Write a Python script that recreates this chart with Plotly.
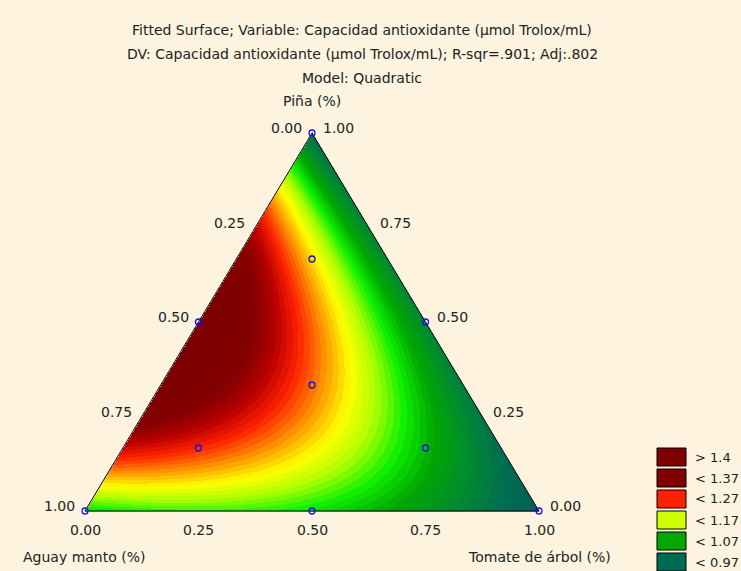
import numpy as np
import plotly.graph_objects as go

# ---------------- data ----------------
title_lines = [
    "Fitted Surface; Variable: Capacidad antioxidante (µmol Trolox/mL)",
    "DV: Capacidad antioxidante (µmol Trolox/mL); R-sqr=.901; Adj:.802",
    "Model: Quadratic",
]
comp_names = ["Aguay manto (%)", "Piña (%)", "Tomate de árbol (%)"]

# Scheffé quadratic model coefficients (A = Aguay manto, P = Piña, T = Tomate de árbol)
lin_coef = [1.10, 0.97, 0.93]          # bA, bP, bT
int_coef = [1.72, 0.36, 0.24]          # bAP, bAT, bPT

# design points (mixture fractions)
pts_A = [1.0, 0.0, 0.0, 0.5, 0.5, 0.0, 1/3, 2/3, 1/6, 1/6]
pts_P = [0.0, 1.0, 0.0, 0.5, 0.0, 0.5, 1/3, 1/6, 2/3, 1/6]
pts_T = [0.0, 0.0, 1.0, 0.0, 0.5, 0.5, 1/3, 1/6, 1/6, 2/3]

tick_vals = [0.0, 0.25, 0.5, 0.75, 1.0]
tick_text = ["0.00", "0.25", "0.50", "0.75", "1.00"]

legend_labels = ["> 1.4", "< 1.37", "< 1.27", "< 1.17", "< 1.07", "< 0.97"]
legend_colors = ["#800000", "#800000", "#FF2000", "#CCFF00", "#00A800", "#006B54"]

cs_vals = [0.92, 0.97, 1.02, 1.07, 1.115, 1.16, 1.20, 1.245, 1.29, 1.33, 1.37, 1.50]
cs_cols = ["#005C4E", "#006B54", "#008A30", "#00A800", "#10F000", "#B0FF00",
           "#FFFF00", "#FF9000", "#FF2000", "#B80000", "#840000", "#780000"]
band_step = 0.01

BG = "#FDF3DF"
W, H = 741, 571
# pixel placement of the triangle
X0, X1 = 85, 539      # bottom-left / bottom-right x (px)
YB, YT = 511, 133     # base / apex y (px from top)


def to_xy(a, p, t):
    a, p, t = np.asarray(a), np.asarray(p), np.asarray(t)
    return t + p / 2.0, p


def model(a, p, t):
    bA, bP, bT = lin_coef
    bAP, bAT, bPT = int_coef
    return bA * a + bP * p + bT * t + bAP * a * p + bAT * a * t + bPT * p * t


# ---------------- surface ----------------
nx, ny = X1 - X0 + 1, YB - YT + 1
xs = np.linspace(0, 1, nx)
ys = np.linspace(0, 1, ny)
XX, YY = np.meshgrid(xs, ys)
P = YY
T = XX - YY / 2.0
A = 1.0 - P - T
Z = model(A, P, T)
Z = np.floor(Z / band_step) * band_step + band_step / 2
Z[(A < -1e-9) | (T < -1e-9)] = np.nan

zmin, zmax = cs_vals[0], cs_vals[-1]
colorscale = [[(v - zmin) / (zmax - zmin), c] for v, c in zip(cs_vals, cs_cols)]

fig = go.Figure()
fig.add_trace(go.Heatmap(x=xs, y=ys, z=Z, colorscale=colorscale, zmin=zmin, zmax=zmax,
                         showscale=False, hoverinfo="skip", zsmooth=False))

# triangle outline
vx, vy = to_xy([1, 0, 0, 1], [0, 0, 1, 0], [0, 1, 0, 0])
fig.add_trace(go.Scatter(x=vx, y=vy, mode="lines", line=dict(color="black", width=1),
                         hoverinfo="skip", showlegend=False))

# design points
px_, py_ = to_xy(pts_A, pts_P, pts_T)
fig.add_trace(go.Scatter(x=px_, y=py_, mode="markers",
                         marker=dict(symbol="circle-open", color="#1010F0", size=6,
                                     line=dict(width=1.3, color="#1010F0")),
                         hoverinfo="skip", showlegend=False))

font = dict(family="DejaVu Sans, Liberation Sans, sans-serif", size=14, color="#222222")
lfont = dict(family="DejaVu Sans, Liberation Sans, sans-serif", size=13, color="#222222")
ann = []
# left side ticks: Aguay manto (1 at bottom-left, 0 at apex)
for v, s in zip(tick_vals, tick_text):
    x, y = to_xy(v, 1 - v, 0)
    ann.append(dict(x=float(x), y=float(y), text=s, showarrow=False, xanchor="right",
                    yanchor="middle", xshift=-8, yshift=5, font=font))
# bottom ticks: Tomate de árbol
for v, s in zip(tick_vals, tick_text):
    x, y = to_xy(1 - v, 0, v)
    ann.append(dict(x=float(x), y=float(y), text=s, showarrow=False, xanchor="center",
                    yanchor="top", yshift=-9, font=font))
# right side ticks: Piña
for v, s in zip(tick_vals, tick_text):
    x, y = to_xy(0, v, 1 - v)
    ann.append(dict(x=float(x), y=float(y), text=s, showarrow=False, xanchor="left",
                    yanchor="middle", xshift=9, yshift=5, font=font))

# axis titles
ax_, ay_ = to_xy(0, 1, 0)
ann.append(dict(x=float(ax_), y=float(ay_), text=comp_names[1], showarrow=False,
                xanchor="center", yanchor="bottom", yshift=22, font=font))
ann.append(dict(x=21, y=H - 557, xref="paper", yref="paper", text=comp_names[0],
                showarrow=False, xanchor="left", yanchor="middle", font=font))
ann.append(dict(x=613, y=H - 557, xref="paper", yref="paper", text=comp_names[2],
                showarrow=False, xanchor="right", yanchor="middle", font=font))

# title lines
for i, line in enumerate(title_lines):
    ann.append(dict(x=362, y=H - (30 + 24 * i), xref="paper", yref="paper", text=line,
                    showarrow=False, xanchor="center", yanchor="middle", font=font))

# legend
shapes = []
for i, (lab, col) in enumerate(zip(legend_labels, legend_colors)):
    top = 448 + 21 * i
    shapes.append(dict(type="rect", xref="paper", yref="paper", x0=657, x1=686,
                       y0=H - top, y1=H - (top + 18), fillcolor=col,
                       line=dict(color="black", width=1)))
    ann.append(dict(x=693, y=H - (top + 9), xref="paper", yref="paper", text=lab,
                    showarrow=False, xanchor="left", yanchor="middle", font=lfont))

# convert paper-pixel annotations to fractions
for a in ann:
    if a.get("xref") == "paper":
        a["x"] = a["x"] / W
        a["y"] = a["y"] / H
for s in shapes:
    s["x0"] /= W; s["x1"] /= W; s["y0"] /= H; s["y1"] /= H

sx = X1 - X0
sy = YB - YT
fig.update_layout(
    width=W, height=H, margin=dict(l=0, r=0, t=0, b=0),
    paper_bgcolor=BG, plot_bgcolor=BG, showlegend=False,
    xaxis=dict(range=[-X0 / sx, (W - X0) / sx], visible=False, fixedrange=True),
    yaxis=dict(range=[-(H - YB) / sy, YB / sy], visible=False, fixedrange=True),
    annotations=ann, shapes=shapes,
)
fig.write_html("out.html")
